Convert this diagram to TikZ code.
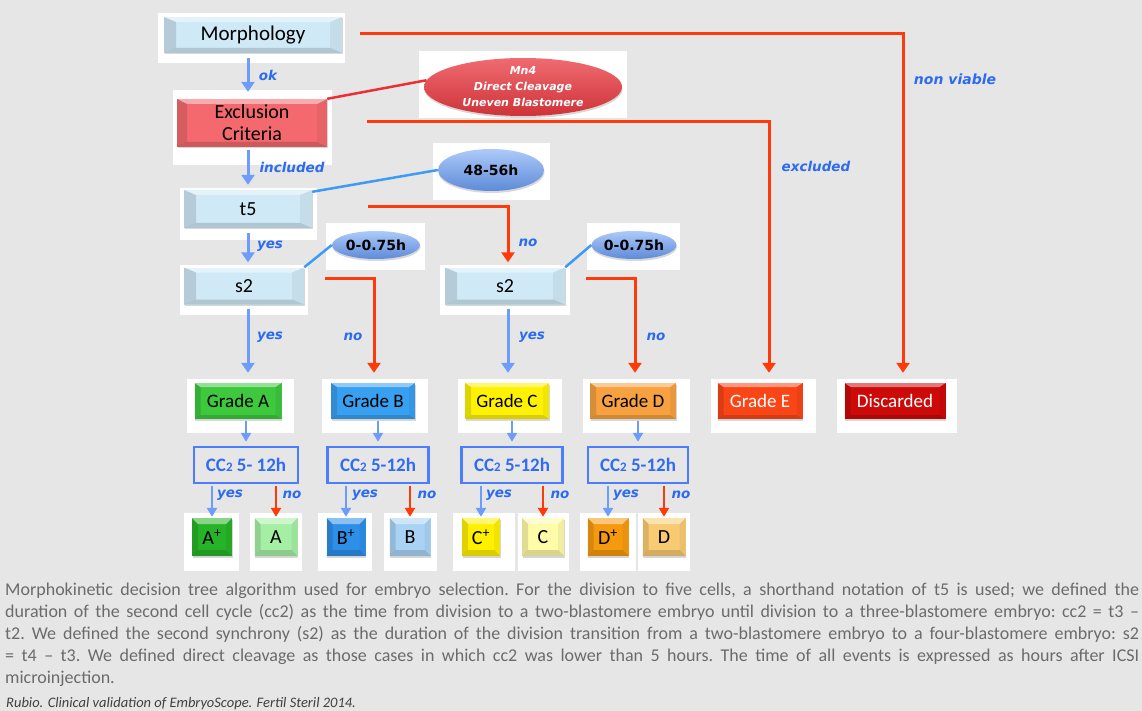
\documentclass[tikz,border=0pt]{standalone}
\usepackage{fontspec}
\setmainfont{Carlito}
\newfontfamily\lblfont{DejaVu Sans}
\usetikzlibrary{shapes.geometric,arrows.meta,shadows}

\definecolor{bg}{HTML}{E6E6E6}
\definecolor{redline}{HTML}{FF3A0A}
\definecolor{bluearr}{HTML}{6E9CFA}
\definecolor{linkblue}{HTML}{3D9BF5}
\definecolor{lblblue}{HTML}{2A6BF2}
\definecolor{paleblue}{HTML}{CFE9F6}
\definecolor{exclred}{HTML}{F3696D}
\definecolor{mnred}{HTML}{EA3A41}
\definecolor{ccblue}{HTML}{4C7DFF}
\definecolor{cctext}{HTML}{2F6BF5}
\definecolor{capgray}{HTML}{6B6B6B}
\definecolor{ellcol}{HTML}{6A9EF5}
\definecolor{gradeA}{HTML}{3DC83D}
\definecolor{gradeB}{HTML}{38A0F0}
\definecolor{gradeC}{HTML}{FFF200}
\definecolor{gradeD}{HTML}{F7A140}
\definecolor{gradeE}{HTML}{FA4517}
\definecolor{discred}{HTML}{CC0A0A}
\definecolor{Aplus}{HTML}{27B327}
\definecolor{Aplain}{HTML}{A5EFA5}
\definecolor{Bplus}{HTML}{2D8FE8}
\definecolor{Bplain}{HTML}{A9D3F5}
\definecolor{Cplus}{HTML}{FFF000}
\definecolor{Cplain}{HTML}{FFFBA8}
\definecolor{Dplus}{HTML}{F59A0E}
\definecolor{Dplain}{HTML}{F8CB72}

\tikzset{
  bevel/.style 2 args={path picture={
    \fill[white,opacity=.45] (path picture bounding box.north west) -- (path picture bounding box.north east)
      -- ([xshift=-#1,yshift=-#2]path picture bounding box.north east) -- ([xshift=#1,yshift=-#2]path picture bounding box.north west) -- cycle;
    \fill[black,opacity=.12] (path picture bounding box.north west) -- ([xshift=#1,yshift=-#2]path picture bounding box.north west)
      -- ([xshift=#1,yshift=#2]path picture bounding box.south west) -- (path picture bounding box.south west) -- cycle;
    \fill[black,opacity=.05] (path picture bounding box.north east) -- ([xshift=-#1,yshift=-#2]path picture bounding box.north east)
      -- ([xshift=-#1,yshift=#2]path picture bounding box.south east) -- (path picture bounding box.south east) -- cycle;
    \fill[black,opacity=.15] (path picture bounding box.south west) -- ([xshift=#1,yshift=#2]path picture bounding box.south west)
      -- ([xshift=-#1,yshift=#2]path picture bounding box.south east) -- (path picture bounding box.south east) -- cycle;
  }},
  box/.style={rectangle, inner sep=0pt, font=\fontsize{20}{25}\selectfont, align=center,
    drop shadow={shadow xshift=0.5pt, shadow yshift=-1.5pt, opacity=.3}},
  stepbox/.style={box, fill=paleblue, bevel={12pt}{5pt}, minimum height=37pt},
  grade/.style={box, bevel={6pt}{4pt}, minimum height=36pt, font=\fontsize{19}{22}\selectfont},
  leaf/.style={box, bevel={6pt}{6pt}, minimum width=40pt, minimum height=38pt, font=\fontsize{20}{22}\selectfont},
  ccbox/.style={rectangle, draw=ccblue, line width=2.5pt, minimum height=36pt, inner sep=0pt,
    text=cctext, font=\bfseries\fontsize{19}{22}\selectfont},
  timeell/.style={ellipse, inner sep=0pt, top color=ellcol!55!white, middle color=ellcol, bottom color=ellcol!88!black,
    font=\lblfont\bfseries\fontsize{14}{16}\selectfont,
    drop shadow={shadow xshift=0.5pt, shadow yshift=-2pt, opacity=.3}},
  barrow/.style={draw=bluearr, line width=3pt, -{Triangle[width=13pt,length=10pt]}},
  rarrow/.style={draw=redline, line width=3pt, -{Triangle[width=13pt,length=10pt]}},
  sbarrow/.style={draw=bluearr, line width=2.5pt, -{Triangle[width=10pt,length=9pt]}},
  srarrow/.style={draw=redline, line width=2.5pt, -{Triangle[width=10pt,length=9pt]}},
  rlink/.style={draw=mnred!80!red, line width=2.5pt},
  blink/.style={draw=linkblue, line width=2.5pt},
  lbl/.style={inner sep=0pt, text=lblblue, font=\lblfont\bfseries\itshape\fontsize{13.5}{15}\selectfont},
  panel/.style={fill=white},
}

\begin{document}
\begin{tikzpicture}[x=1pt,y=-1pt]
  % canvas
  \fill[bg] (0,0) rectangle (1142,711);
  \useasboundingbox (0,0) rectangle (1142,711);

  % white backing panels
  \fill[panel] (158,13) rectangle (345,63);
  \fill[panel] (173,90) rectangle (332,165);
  \fill[panel] (419,51) rectangle (627,118);
  \fill[panel] (180,188) rectangle (317,240);
  \fill[panel] (433,143) rectangle (550,200);
  \fill[panel] (326,223) rectangle (425,270);
  \fill[panel] (180,265) rectangle (308,315);
  \fill[panel] (440,265) rectangle (570,315);
  \fill[panel] (587,223) rectangle (680,270);
  \fill[panel] (187,379) rectangle (294,433);
  \fill[panel] (322,379) rectangle (428,433);
  \fill[panel] (458,379) rectangle (562,433);
  \fill[panel] (583,379) rectangle (690,433);
  \fill[panel] (711,379) rectangle (816,433);
  \fill[panel] (837,379) rectangle (957,433);
  \fill[panel] (184,513) rectangle (239,571);
  \fill[panel] (250,513) rectangle (302,571);
  \fill[panel] (318,513) rectangle (372,571);
  \fill[panel] (384,513) rectangle (437,571);
  \fill[panel] (453,513) rectangle (515,571);
  \fill[panel] (518,513) rectangle (569,571);
  \fill[panel] (580,513) rectangle (636,571);
  \fill[panel] (638,513) rectangle (690,571);

  % decision steps
  \node[stepbox, minimum width=178pt, minimum height=36pt, font=\fontsize{21}{25}\selectfont] (morph) at (253,35) {Morphology};
  \node[box, fill=exclred, bevel={10pt}{5pt}, minimum width=150pt, minimum height=48pt] (excl) at (252,123) {Exclusion\\[-3pt]Criteria};
  \node[stepbox, minimum width=128pt, minimum height=38pt] (t5) at (248,209) {t5};
  \node[stepbox, minimum width=120pt] (s2a) at (244,286) {s2};
  \node[stepbox, minimum width=120pt] (s2b) at (505,286) {s2};

  % criteria ellipses
  \node[ellipse, inner sep=0pt, minimum width=198pt, minimum height=58pt, align=center, text=white,
        top color=mnred!75!white, middle color=mnred, bottom color=mnred!88!black,
        drop shadow={shadow xshift=0.5pt, shadow yshift=-2pt, opacity=.3},
        font=\lblfont\bfseries\itshape\fontsize{11}{16}\selectfont] (mn4) at (523,87)
        {Mn4\\Direct Cleavage\\Uneven Blastomere};
  \node[timeell, minimum width=106pt, minimum height=42pt] (h4856) at (491,170) {48-56h};
  \node[timeell, minimum width=88pt, minimum height=28pt] (h075a) at (376,245) {0-0.75h};
  \node[timeell, minimum width=84pt, minimum height=28pt] (h075b) at (634,245) {0-0.75h};

  % grades
  \node[grade, fill=gradeA, minimum width=87pt] (gA) at (238,401) {Grade A};
  \node[grade, fill=gradeB, minimum width=84pt] (gB) at (373,401) {Grade B};
  \node[grade, fill=gradeC, minimum width=84pt] (gC) at (507,401) {Grade C};
  \node[grade, fill=gradeD, minimum width=86pt] (gD) at (633,401) {Grade D};
  \node[grade, fill=gradeE, minimum width=85pt, text=white] (gE) at (760,401) {Grade E};
  \node[grade, fill=discred, minimum width=101pt, text=white] (disc) at (895,401) {Discarded};

  % cc2 checks
  \node[ccbox, minimum width=104pt] (ccA) at (246,465) {CC{\fontsize{13}{13}\selectfont 2} 5- 12h};
  \node[ccbox, minimum width=101pt] (ccB) at (378,465) {CC{\fontsize{13}{13}\selectfont 2} 5-12h};
  \node[ccbox, minimum width=101pt] (ccC) at (512,465) {CC{\fontsize{13}{13}\selectfont 2} 5-12h};
  \node[ccbox, minimum width=100pt] (ccD) at (638,465) {CC{\fontsize{13}{13}\selectfont 2} 5-12h};

  % final classes
  \node[leaf, fill=Aplus] (Ap) at (212,537) {A\textsuperscript{+}};
  \node[leaf, fill=Aplain, minimum width=43pt] (Aq) at (276,537) {A};
  \node[leaf, fill=Bplus, minimum width=39pt] (Bp) at (346,537) {B\textsuperscript{+}};
  \node[leaf, fill=Bplain, minimum width=41pt] (Bq) at (410,537) {B};
  \node[leaf, fill=Cplus, minimum width=38pt] (Cp) at (481,537) {C\textsuperscript{+}};
  \node[leaf, fill=Cplain, minimum width=42pt] (Cq) at (543,537) {C};
  \node[leaf, fill=Dplus, minimum width=41pt] (Dp) at (608,537) {D\textsuperscript{+}};
  \node[leaf, fill=Dplain, minimum width=43pt] (Dq) at (664,537) {D};

  % main flow
  \draw[barrow] ([xshift=-5pt,yshift=-5pt]morph.south) -- ([xshift=-4pt,yshift=7pt]excl.north);
  \draw[barrow] ([xshift=-4pt,yshift=-3pt]excl.south) -- ([yshift=5pt]t5.north);
  \draw[barrow] ([yshift=-5pt]t5.south) -- ([xshift=4pt,yshift=5pt]s2a.north);
  \draw[barrow] ([xshift=4pt,yshift=-4pt]s2a.south) -- ([xshift=10pt,yshift=10pt]gA.north);
  \draw[barrow] ([xshift=3pt,yshift=-4pt]s2b.south) -- ([xshift=1pt,yshift=10pt]gC.north);
  \draw[rarrow] ([xshift=56pt,yshift=2pt]t5.east) -| ([xshift=3pt,yshift=5pt]s2b.north);
  \draw[rarrow] ([xshift=21pt,yshift=8pt]s2a.east) -| ([xshift=1pt,yshift=10pt]gB.north);
  \draw[rarrow] ([xshift=21pt,yshift=8pt]s2b.east) -| ([xshift=2pt,yshift=10pt]gD.north);
  \draw[rarrow] ([xshift=40pt,yshift=1pt]excl.east) -| ([xshift=9pt,yshift=10pt]gE.north);
  \draw[rarrow] ([xshift=18pt,yshift=1pt]morph.east) -| ([xshift=8pt,yshift=10pt]disc.north);

  % criteria links
  \draw[rlink] (excl.north east) -- (mn4.176);
  \draw[blink] ([yshift=-2pt]t5.north east) -- (h4856.west);
  \draw[blink] (s2a.north east) -- (h075a.west);
  \draw[blink] (s2b.north east) -- (h075b.west);

  % grade to cc2
  \draw[sbarrow, shorten <=2pt, shorten >=4pt] (gA.south -| ccA.north) -- (ccA.north);
  \draw[sbarrow, shorten <=2pt, shorten >=4pt] (gB.south -| ccB.north) -- (ccB.north);
  \draw[sbarrow, shorten <=2pt, shorten >=4pt] (gC.south -| ccC.north) -- (ccC.north);
  \draw[sbarrow, shorten <=2pt, shorten >=4pt] (gD.south -| ccD.north) -- (ccD.north);

  % cc2 outcomes
  \foreach \c/\p/\q in {ccA/Ap/Aq, ccB/Bp/Bq, ccC/Cp/Cq, ccD/Dp/Dq}{
    \draw[sbarrow, shorten <=1.25pt, shorten >=1pt] (\c.south -| \p.north) -- (\p.north);
    \draw[srarrow, shorten <=1.25pt, shorten >=1pt] (\c.south -| \q.north) -- (\q.north);
  }

  % branch labels
  \node[lbl] (lok) at (268,75) {ok};
  \node[lbl] (lincl) at (292,167) {included};
  \node[lbl] (lyes1) at (270,246) {yes};
  \node[lbl] (lno1) at (528,243) {no};
  \node[lbl] (lyes2) at (270,337) {yes};
  \node[lbl] (lno2) at (353,337) {no};
  \node[lbl] (lyes3) at (532,337) {yes};
  \node[lbl] (lno3) at (656,337) {no};
  \node[lbl] (lexcl) at (816,166) {excluded};
  \node[lbl, font=\lblfont\bfseries\itshape\fontsize{14}{15}\selectfont] (lnv) at (955,79) {non viable};
  \node[lbl] (yA) at (230,495) {yes};  \node[lbl] (nA) at (292,495) {no};
  \node[lbl] (yB) at (365,495) {yes};  \node[lbl] (nB) at (427,495) {no};
  \node[lbl] (yC) at (499,495) {yes};  \node[lbl] (nC) at (560,495) {no};
  \node[lbl] (yD) at (626,495) {yes};  \node[lbl] (nD) at (681,495) {no};

  % caption
  \node[anchor=north west, inner sep=0pt, text width=1134pt, align=justify, text=capgray,
        font=\fontsize{18}{22}\selectfont\frenchspacing] (caption) at (5,583)
  {Morphokinetic decision tree algorithm used for embryo selection. For the division to five cells, a shorthand notation of t5 is used; we defined the\linebreak
   duration of the second cell cycle (cc2) as the time from division to a two-blastomere embryo until division to a three-blastomere embryo: cc2 = t3 –\linebreak
   t2. We defined the second synchrony (s2) as the duration of the division transition from a two-blastomere embryo to a four-blastomere embryo: s2\linebreak
   = t4 – t3. We defined direct cleavage as those cases in which cc2 was lower than 5 hours. The time of all events is expressed as hours after ICSI\linebreak
   microinjection.\par};
  \node[anchor=base west, inner sep=0pt, text=black!75, font=\itshape\fontsize{14.5}{16}\selectfont] (cite) at (6,707)
    {Rubio. Clinical validation of EmbryoScope. Fertil Steril 2014.};
\end{tikzpicture}
\end{document}
